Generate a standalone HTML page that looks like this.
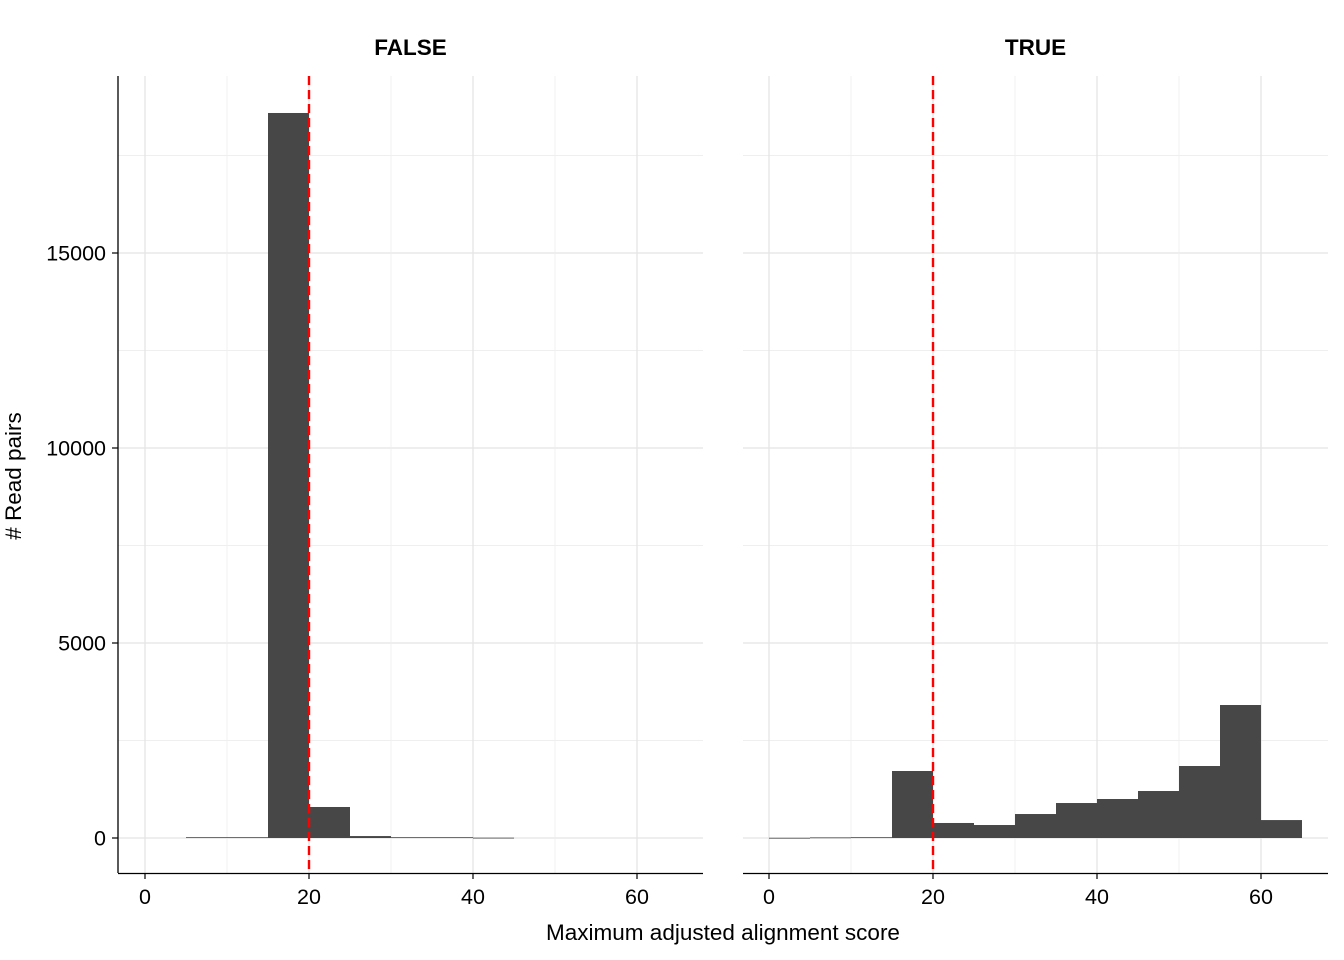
<!DOCTYPE html>
<html><head><meta charset="utf-8"><style>
body{margin:0;background:#fff;}
svg{display:block;font-family:"Liberation Sans",Arial,sans-serif;}
</style></head><body>
<svg id="chart" width="1344" height="960"></svg>
<script>
const binStarts=[0,5,10,15,20,25,30,35,40,45,50,55,60];
const falseCounts=[0,20,20,18590,795,50,20,20,8,0,0,0,0];
const trueCounts=[5,15,20,1718,385,333,615,897,1000,1205,1846,3410,460];
const xTicks=[0,20,40,60];
const yTicks=[0,5000,10000,15000];
const threshold=20;
const binWidth=5;
const NS="http://www.w3.org/2000/svg";
const svg=document.getElementById('chart');
function el(t,a,p){const e=document.createElementNS(NS,t);for(const k in a)e.setAttribute(k,a[k]);(p||svg).appendChild(e);return e;}
const yScale=v=>838-v*0.039;
const panels=[{name:'FALSE',x0:118,x1:703,zero:145,data:falseCounts},{name:'TRUE',x0:743,x1:1328,zero:769,data:trueCounts}];
const ppu=8.2;
panels.forEach((p,pi)=>{
  const g=el('g',{});
  
  
  const xs=v=>p.zero+v*ppu;
  for(let v=0;v<=17500;v+=2500){const y=yScale(v);const l=el('line',{x1:p.x0,x2:p.x1,y1:y,y2:y,stroke:v%5000===0?'#e4e4e4':'#efefef','stroke-width':v%5000===0?1.3:0.9},g);}
  for(let v=0;v<=60;v+=10){const x=xs(v);const l=el('line',{x1:x,x2:x,y1:76,y2:873,stroke:v%20===0?'#e4e4e4':'#efefef','stroke-width':v%20===0?1.3:0.9},g);}
  p.data.forEach((c,i)=>{if(c<=0)return;const x=xs(binStarts[i]);const y=yScale(c);const r=el('rect',{x:x,y:y,width:binWidth*ppu,height:Math.max(838-y,0.8),fill:'#474747'},g);});
  const tx=xs(threshold);
  const d=el('line',{x1:tx,x2:tx,y1:76,y2:873,stroke:'#ff0000','stroke-width':2.4,'stroke-dasharray':'9,5'},g);
  
  const ax=el('line',{x1:p.x0,x2:p.x1,y1:873.5,y2:873.5,stroke:'#000','stroke-width':1.3},g);
  
  xTicks.forEach(v=>{const x=xs(v);el('line',{x1:x,x2:x,y1:873,y2:879,stroke:'#000','stroke-width':1.2},g);const t=el('text',{x:x,y:904,'text-anchor':'middle','font-size':21.5,fill:'#000'},g);t.textContent=v;});
  const st=el('text',{x:(p.x0+p.x1)/2,y:55,'text-anchor':'middle','font-size':22.5,'font-weight':'bold',fill:'#000'},g);
  st.textContent=p.name;
  if(pi===0){
    const ya=el('line',{x1:118,x2:118,y1:76,y2:873,stroke:'#000','stroke-width':1.3},g);
    
    yTicks.forEach(v=>{const y=yScale(v);el('line',{x1:112,x2:118,y1:y,y2:y,stroke:'#000','stroke-width':1.2},g);const t=el('text',{x:106,y:y+7.5,'text-anchor':'end','font-size':21.5,fill:'#000'},g);t.textContent=v;});
  }
});
const xt=el('text',{x:723,y:940,'text-anchor':'middle','font-size':22.5,fill:'#000'});
xt.textContent='Maximum adjusted alignment score';

const yt=el('text',{x:0,y:0,'text-anchor':'middle','font-size':22.5,fill:'#000',transform:'translate(21,476) rotate(-90)'});
yt.textContent='# Read pairs';

</script>
</body></html>
